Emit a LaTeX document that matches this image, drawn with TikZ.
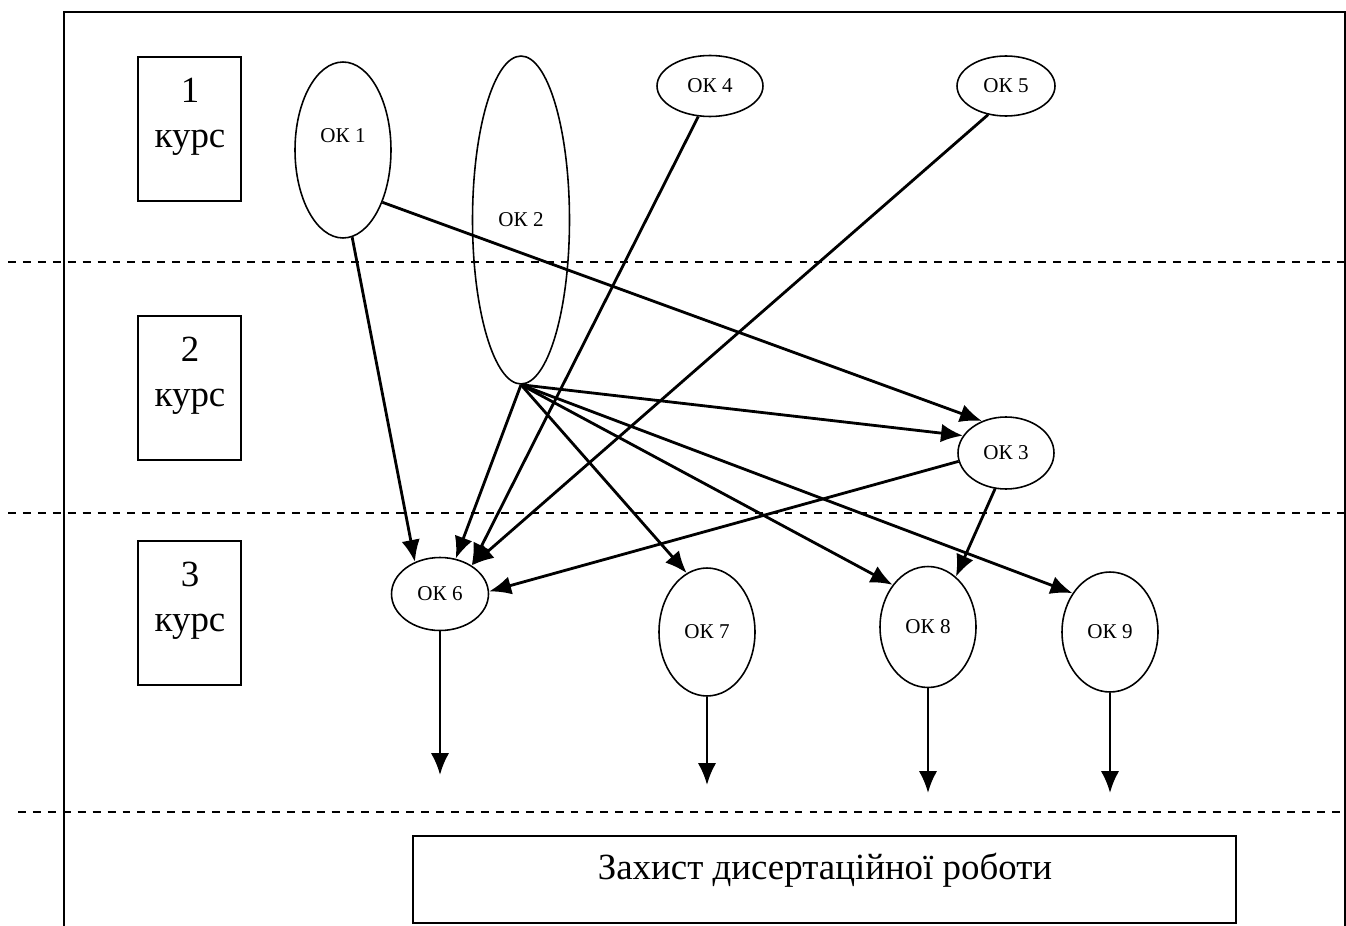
\documentclass[tikz,border=0pt]{standalone}
\usepackage{fontspec}
\setmainfont{Liberation Serif}
\usepackage{tikz}
\usetikzlibrary{arrows.meta,shapes.geometric}

\begin{document}
\begin{tikzpicture}[x=0.02cm, y=-0.02cm, >={Latex[length=12.5pt,width=10.5pt]},
  ok/.style={ellipse, draw=black, line width=0.9pt, inner sep=0pt, minimum width=1.92cm, font=\fontsize{12}{14}\selectfont},
  kurs/.style={rectangle, draw=black, line width=1.1pt, minimum width=2.06cm, minimum height=2.88cm},
  kurstext/.style={align=center, inner sep=0pt, font=\fontsize{21}{25.5}\selectfont},
  link/.style={->, line width=1.6pt},
  yearline/.style={dash pattern=on 4.5pt off 4pt, line width=1.1pt}]
  \useasboundingbox (0,0) rectangle (1346,926);

  % frame and year borders
  \draw[line width=1.5pt] (64,926) -- (64,12) -- (1345,12) -- (1345,926);
  \draw[yearline] (8,262) -- (1346,262);
  \draw[yearline] (8,513) -- (1346,513);
  \draw[yearline] (18,812) -- (1346,812);

  % years
  \node[kurs] (k1) at (189.5,129) {};
  \node[kurstext] (k1t) at (190,117) {1\\курс};
  \node[kurs] (k2) at (189.5,388) {};
  \node[kurstext] (k2t) at (190,376) {2\\курс};
  \node[kurs] (k3) at (189.5,613) {};
  \node[kurstext] (k3t) at (190,601) {3\\курс};

  % courses
  \node[ok, minimum height=3.52cm, text depth=17pt] (ok1) at (343,150) {ОК 1};
  \node[ok, minimum width=1.94cm, minimum height=6.56cm] (ok2) at (521,220) {ОК 2};
  \node[ok, minimum width=2.12cm, minimum height=1.22cm] (ok4) at (710,86) {ОК 4};
  \node[ok, minimum width=1.96cm, minimum height=1.2cm] (ok5) at (1006,86) {ОК 5};
  \node[ok, minimum height=1.44cm] (ok3) at (1006,453) {ОК 3};
  \node[ok, minimum width=1.94cm, minimum height=1.46cm] (ok6) at (440,594) {ОК 6};
  \node[ok, minimum height=2.56cm] (ok7) at (707,632) {ОК 7};
  \node[ok, minimum height=2.42cm] (ok8) at (928,627) {ОК 8};
  \node[ok, minimum height=2.4cm] (ok9) at (1110,632) {ОК 9};

  \coordinate (e6) at (440,775);
  \coordinate (e7) at (707,785);
  \coordinate (e8) at (928,793);
  \coordinate (e9) at (1110,793);

  \path[link]
    (ok1.-84) edge (ok6.128)
    (ok1.-53) edge (ok3.127)
    (ok2.south) edge (ok3.158)
    (ok2.south) edge (ok6.66)
    (ok2.south) edge (ok7.109)
    (ok2.south) edge (ok8.130)
    (ok2.south) edge (ok9.134)
    (ok4.-111) edge (ok6.42)
    (ok5.-122) edge (ok6.42)
    (ok3.190) edge (ok6.3)
    (ok3.253) edge (ok8.61);

  \path[link]
    (ok6.south) edge (e6)
    (ok7.south) edge (e7)
    (ok8.south) edge (e8)
    (ok9.south) edge (e9);

  % defence
  \node[kurs, minimum width=16.46cm, minimum height=1.74cm] (zakhyst) at (824.5,879.5) {};
  \node[kurstext] (zakhystt) at (825,870) {Захист дисертаційної роботи};
\end{tikzpicture}
\end{document}
